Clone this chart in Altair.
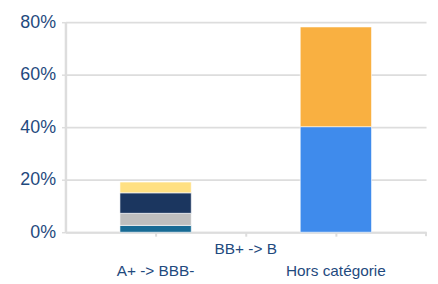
import altair as alt
import pandas as pd

categories = ["A+ -> BBB-", "BB+ -> B", "Hors catégorie"]
series = ["s1", "s2", "s3", "s4", "s5", "s6"]
colors = ["#176A94", "#BEBEBE", "#1B365F", "#FFE082", "#3F8BEC", "#F9B041"]
# values in % for each series per category
values = {
    "s1": [2.6, 0.0, 0.0],
    "s2": [4.6, 0.0, 0.0],
    "s3": [7.8, 0.0, 0.0],
    "s4": [4.1, 0.0, 0.0],
    "s5": [0.0, 0.0, 40.2],
    "s6": [0.0, 0.0, 38.0],
}
y_ticks = [0, 0.2, 0.4, 0.6, 0.8]

rows = []
for i, s in enumerate(series):
    for c, v in zip(categories, values[s]):
        if v > 0:
            rows.append({"cat": c, "series": s, "order": i, "value": v / 100})
df = pd.DataFrame(rows)

text_color = "#1F4A7E"
grid_color = "#DDDDDD"

bars = alt.Chart(df).mark_bar(stroke="white", strokeWidth=0.6).encode(
    x=alt.X("cat:N", sort=categories,
            scale=alt.Scale(domain=categories, paddingInner=0.209, paddingOuter=0.6045),
            axis=alt.Axis(title=None, labelAngle=0, labelFont="Liberation Sans",
                          labelFontSize=15.5, labelColor=text_color,
                          labelBaseline="top",
                          labelPadding={"condition": {"test": "datum.value == 'BB+ -> B'", "value": 5},
                                        "value": 28},
                          domainColor=grid_color, domainWidth=2,
                          tickColor=grid_color, tickWidth=2, tickSize=4, grid=False)),
    y=alt.Y("value:Q", stack="zero",
            scale=alt.Scale(domain=[0, 0.8], nice=False),
            axis=alt.Axis(title=None, format=".0%", values=y_ticks,
                          labelFont="Liberation Sans", labelFontSize=18,
                          labelColor=text_color, labelPadding=6,
                          domainColor=grid_color, domainWidth=2.5,
                          tickColor=grid_color, tickWidth=1.5, tickSize=4,
                          gridColor=grid_color, gridWidth=1.8)),
    color=alt.Color("series:N", scale=alt.Scale(domain=series, range=colors), legend=None),
    order=alt.Order("order:Q"),
)

end_tick = alt.Chart(pd.DataFrame({"a": [0]})).mark_rule(color=grid_color, strokeWidth=2).encode(
    x=alt.value(364), y=alt.value(212), y2=alt.value(216)
)

chart = alt.layer(bars, end_tick).properties(
    width=364, height=212,
    padding={"left": 58, "top": 13, "right": 4, "bottom": 56},
    autosize=alt.AutoSizeParams(type="none"),
).configure_view(stroke=None)

chart.save("out.html", embed_options={"renderer": "svg", "actions": False})
